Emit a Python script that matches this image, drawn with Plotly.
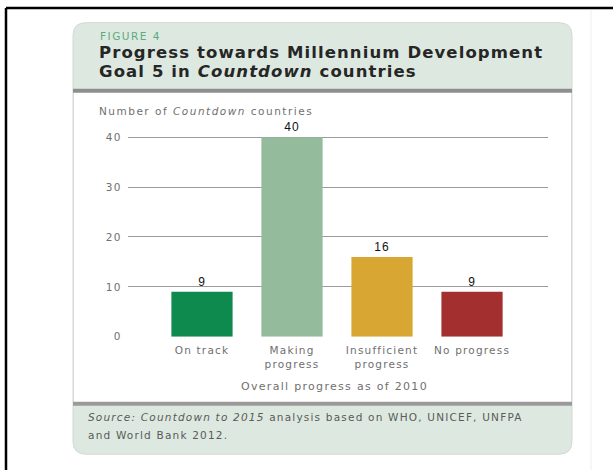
import plotly.graph_objects as go

# ---- data ----
categories = ["On track", "Making progress", "Insufficient progress", "No progress"]
values = [9, 40, 16, 9]
bar_colors = ["#0f8a4f", "#93bb9c", "#d8a733", "#a3302f"]
y_ticks = [0, 10, 20, 30, 40]
y_tick_labels = ["0", "10", "20", "30", "40"]

W, H = 613, 476


def px(x):
    return x / W


def py(y):
    return 1 - y / H


def ls(text, sp):
    return f'<span style="letter-spacing:{sp}px">{text}</span>'


def rounded_rect(x0, y0, x1, y1, r):
    X0, X1 = px(x0), px(x1)
    Y0, Y1 = py(y0), py(y1)
    rx, ry = r / W, r / H
    return (f"M {X0+rx},{Y0} L {X1-rx},{Y0} Q {X1},{Y0} {X1},{Y0-ry} "
            f"L {X1},{Y1+ry} Q {X1},{Y1} {X1-rx},{Y1} L {X0+rx},{Y1} "
            f"Q {X0},{Y1} {X0},{Y1+ry} L {X0},{Y0-ry} Q {X0},{Y0} {X0+rx},{Y0} Z")


def two_line(label):
    if label in ("No progress", "On track"):
        return label
    words = label.split(" ")
    return words[0] + "<br>" + " ".join(words[1:])


body = "DejaVu Sans"
tick_color = "#707070"

fig = go.Figure()
fig.add_trace(go.Bar(
    x=categories, y=values, width=0.68,
    marker=dict(color=bar_colors, line=dict(width=0)),
    text=[ls(str(v), 1) for v in values], textposition="outside",
    textfont=dict(family="Liberation Sans, Arial", size=12, color="#111111"),
    cliponaxis=False, hoverinfo="skip",
))

green = "#dde9e0"
shapes = [
    dict(type="path", path=rounded_rect(73, 23, 572, 460, 13), xref="paper", yref="paper",
         fillcolor=green, line=dict(color="#d3d8d4", width=1), layer="below"),
    dict(type="rect", xref="paper", yref="paper", x0=px(73.5), x1=px(571.5), y0=py(408), y1=py(93),
         fillcolor="white", line=dict(width=0), layer="below"),
    dict(type="line", xref="paper", yref="paper", x0=px(73.5), x1=px(73.5), y0=py(408), y1=py(93),
         line=dict(color="#d8d8d8", width=1), layer="below"),
    dict(type="line", xref="paper", yref="paper", x0=px(571.5), x1=px(571.5), y0=py(408), y1=py(93),
         line=dict(color="#d8d8d8", width=1), layer="below"),
    dict(type="rect", xref="paper", yref="paper", x0=px(73), x1=px(572), y0=py(94), y1=py(90),
         fillcolor="#8e8e8e", line=dict(width=0), layer="below"),
    dict(type="rect", xref="paper", yref="paper", x0=px(73), x1=px(572), y0=py(411), y1=py(407),
         fillcolor="#9a9a9a", line=dict(width=0), layer="below"),
    dict(type="line", xref="paper", yref="paper", x0=px(6), x1=1, y0=py(8), y1=py(8),
         line=dict(color="#000000", width=2.5), layer="below"),
    dict(type="line", xref="paper", yref="paper", x0=px(6), x1=px(6), y0=py(8), y1=0,
         line=dict(color="#000000", width=2.5), layer="below"),
    dict(type="line", xref="paper", yref="paper", x0=px(591), x1=px(591), y0=py(10), y1=0,
         line=dict(color="#efefef", width=1), layer="below"),
]

ann = [
    dict(text=ls("FIGURE 4", 1.5), x=px(98), y=py(36), font=dict(family=body, size=10.5, color="#5caa7b")),
    dict(text="<b>" + ls("Progress towards Millennium Development", 1.1) + "</b>", x=px(97), y=py(53),
         font=dict(family="DejaVu Sans", size=16.5, color="#262626")),
    dict(text="<b>" + ls("Goal 5 in <i>Countdown</i> countries", 1.1) + "</b>", x=px(97), y=py(72),
         font=dict(family="DejaVu Sans", size=16.5, color="#262626")),
    dict(text=ls("Number of <i>Countdown</i> countries", 1.5), x=px(97), y=py(112),
         font=dict(family=body, size=10.5, color=tick_color)),
    dict(text=ls("Overall progress as of 2010", 1.3), x=px(334), y=py(391), xanchor="center",
         font=dict(family=body, size=11, color=tick_color)),
    dict(text=ls("<i>Source: Countdown to 2015</i> analysis based on WHO, UNICEF, UNFPA", 1.2),
         x=px(86), y=py(422), font=dict(family=body, size=10.5, color="#5a5a5a")),
    dict(text=ls("and World Bank 2012.", 1.2), x=px(86), y=py(441),
         font=dict(family=body, size=10.5, color="#5a5a5a")),
]
for a in ann:
    a.setdefault("xanchor", "left")
    a.update(xref="paper", yref="paper", yanchor="middle", showarrow=False)

fig.update_layout(
    width=W, height=H, margin=dict(l=0, r=0, t=0, b=0),
    paper_bgcolor="white", plot_bgcolor="rgba(0,0,0,0)",
    showlegend=False, shapes=shapes, annotations=ann,
    xaxis=dict(domain=[px(128), px(548)], range=[-0.822, 3.844], showgrid=False,
               showline=False, ticks="", zeroline=False, fixedrange=True,
               tickvals=categories, ticktext=[ls(two_line(c), 1.2) for c in categories],
               ticklabelstandoff=6,
               tickfont=dict(family=body, size=10.5, color=tick_color)),
    yaxis=dict(domain=[py(341), py(120)], range=[0, 43.76], tickvals=y_ticks,
               ticktext=[ls(t, 1.5) for t in y_tick_labels],
               showgrid=True, gridcolor="#9c9c9c", gridwidth=1, zeroline=False,
               showline=False, ticks="", ticklabelstandoff=5,
               tickfont=dict(family=body, size=10.5, color=tick_color)),
)

fig.write_html("out.html")
